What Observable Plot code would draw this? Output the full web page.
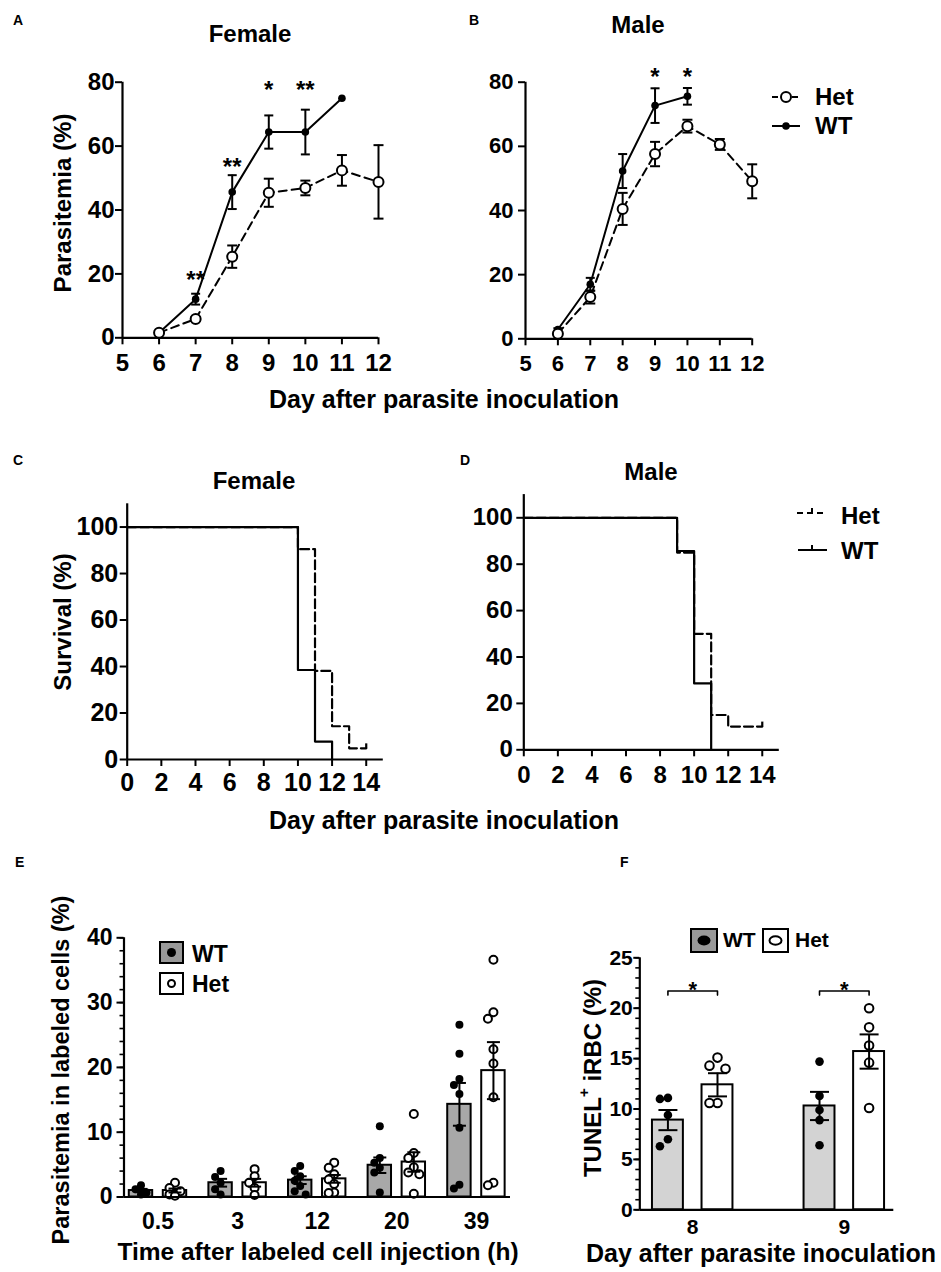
<!DOCTYPE html>
<html><head><meta charset="utf-8">
<script src="https://cdn.jsdelivr.net/npm/d3@7"></script>
<script src="https://cdn.jsdelivr.net/npm/@observablehq/plot@0.6"></script>
<style>
html,body{margin:0;padding:0;background:#fff;}
#fig{position:relative;width:941px;height:1272px;overflow:hidden;background:#fff;}
#fig svg{position:absolute;}
</style></head>
<body><div id="fig"></div>
<script>
// ---------------- DATA ----------------
// A / B : parasitemia (%) by day, mean and SEM
const dayTicks = [5, 6, 7, 8, 9, 10, 11, 12];
const femaleWTDays = [6, 7, 8, 9, 10, 11];
const femaleWTMean = [1.6, 12.1, 45.6, 64.4, 64.4, 75.0];
const femaleWTSem  = [0.3, 1.7, 5.3, 5.2, 7.0, 0];
const femaleHetDays = [6, 7, 8, 9, 10, 11, 12];
const femaleHetMean = [1.6, 5.9, 25.4, 45.4, 46.9, 52.4, 48.8];
const femaleHetSem  = [0.3, 0.6, 3.5, 4.4, 2.3, 4.8, 11.5];
const femaleStarDays = [7, 8, 9, 10];
const femaleStarY = [18.8, 54.0, 78.1, 78.1];
const femaleStarText = ["**", "**", "*", "**"];

const maleWTDays = [6, 7, 8, 9, 10];
const maleWTMean = [2.9, 17.0, 52.3, 72.7, 75.6];
const maleWTSem  = [0.4, 2.0, 5.3, 5.4, 2.6];
const maleHetDays = [6, 7, 8, 9, 10, 11, 12];
const maleHetMean = [1.6, 13.0, 40.5, 57.6, 66.3, 60.6, 49.1];
const maleHetSem  = [0.4, 2.0, 5.0, 3.8, 2.0, 1.7, 5.3];
const maleStarDays = [9, 10];
const maleStarY = [82.2, 82.2];
const maleStarText = ["*", "*"];

// C / D : survival (%)
const survDayTicks = [0, 2, 4, 6, 8, 10, 12, 14];
const survPctTicks = [0, 20, 40, 60, 80, 100];
const femaleSurvWTDays = [0, 10, 11, 12];
const femaleSurvWTPct  = [100, 38.5, 7.7, 0];
const femaleSurvHetDays = [0, 10, 11, 12, 13, 14];
const femaleSurvHetPct  = [100, 90.5, 38.1, 14.3, 4.8, 4.8];
const femaleCensorDays = [14];
const femaleCensorPct = [4.8];
const maleSurvWTDays = [0, 9, 10, 11];
const maleSurvWTPct  = [100, 85.7, 28.6, 0];
const maleSurvHetDays = [0, 9, 10, 11, 12, 14];
const maleSurvHetPct  = [100, 85, 50, 15, 10, 10];
const maleCensorDays = [14];
const maleCensorPct = [10];

// E : parasitemia in labeled cells (%)
const timeGroups = ["0.5", "3", "12", "20", "39"];
const eWTMean = [1.0, 2.2, 2.6, 4.9, 14.3];
const eWTSem  = [0.25, 0.6, 0.6, 1.2, 3.3];
const eHetMean = [1.0, 2.2, 2.8, 5.4, 19.5];
const eHetSem  = [0.3, 0.6, 0.6, 1.5, 4.4];
const eWTPoints = [
  [1.8, 1.2, 0.7, 0.4],
  [4.0, 3.1, 2.2, 1.2, 0.4],
  [4.8, 4.0, 3.2, 2.5, 1.7, 0.9, 0.4],
  [10.9, 6.0, 5.3, 4.5, 3.8, 0.7],
  [26.6, 22.1, 18.2, 17.3, 15.9, 10.7, 1.9, 1.3]
];
const eHetPoints = [
  [2.2, 1.4, 0.9, 0.4, 0.2],
  [4.3, 3.2, 2.2, 1.4, 0.3],
  [5.3, 4.5, 3.5, 2.7, 2.0, 0.7, 0.6],
  [12.8, 6.8, 6.0, 4.6, 3.8, 3.5, 0.5],
  [36.6, 28.5, 27.5, 22.8, 20.6, 15.4, 2.2, 1.8]
];

// F : TUNEL+ iRBC (%)
const dayGroups = ["8", "9"];
const fWTMean = [8.9, 10.3];
const fWTSem  = [1.0, 1.4];
const fHetMean = [12.4, 15.7];
const fHetSem  = [1.15, 1.7];
const fWTPoints = [[11.1, 11.0, 9.4, 7.0, 6.3], [14.7, 11.3, 9.9, 8.9, 6.4]];
const fHetPoints = [[15.1, 14.3, 14.0, 10.6, 10.6], [20.0, 18.1, 16.3, 14.6, 10.1]];
const fSigY = [21.7, 21.7];
const fSigText = ["*", "*"];

// ---------------- HELPERS ----------------
const FONT = "'Liberation Sans', Arial, Helvetica, sans-serif";
const fig = document.getElementById("fig");
const intFmt = d3.format("d");
const capSymbol = {draw(ctx, size) { const w = Math.sqrt(size / Math.PI); ctx.moveTo(-w, 0); ctx.lineTo(w, 0); }};
const upTick = {draw(ctx, size) { const h = Math.sqrt(size / Math.PI); ctx.moveTo(0, 0); ctx.lineTo(0, -h); }};

function place(svg, left, top) {
  svg.style.left = left + "px";
  svg.style.top = top + "px";
  svg.style.position = "absolute";
  svg.style.overflow = "visible";
  fig.appendChild(svg);
}
function rows(xs, vs, es) { return xs.map((x, i) => ({x, v: vs[i], e: es ? es[i] : 0})); }
function errMarks(data, capR, sw = 2) {
  const r = data.filter(d => d.e > 0);
  return [
    Plot.ruleX(r, {x: "x", y1: d => d.v - d.e, y2: d => d.v + d.e, stroke: "black", strokeWidth: sw}),
    Plot.dot(r, {x: "x", y: d => d.v + d.e, symbol: capSymbol, r: capR, stroke: "black", fill: "none", strokeWidth: sw}),
    Plot.dot(r, {x: "x", y: d => d.v - d.e, symbol: capSymbol, r: capR, stroke: "black", fill: "none", strokeWidth: sw})
  ];
}
const baseStyle = {fontFamily: FONT, fontWeight: "bold", background: "transparent", overflow: "visible", color: "black"};

// ---------------- A & B ----------------
function growth(cfg) {
  const wt = rows(cfg.wtDays, cfg.wtMean, cfg.wtSem);
  const het = rows(cfg.hetDays, cfg.hetMean, cfg.hetSem);
  const stars = cfg.starDays.map((d, i) => ({x: d, y: cfg.starY[i], t: cfg.starText[i]}));
  return Plot.plot({
    width: cfg.width, height: cfg.height,
    marginLeft: cfg.mL, marginRight: cfg.mR, marginTop: cfg.mT, marginBottom: cfg.mB,
    x: {domain: [5, 12]}, y: {domain: [0, 80]},
    style: {...baseStyle, fontSize: cfg.fs + "px"},
    marks: [
      Plot.axisX({ticks: dayTicks, tickFormat: intFmt, tickSize: 7, tickPadding: cfg.xPad, fontSize: cfg.fs, fontWeight: "bold", strokeWidth: 2, label: null}),
      Plot.axisY({ticks: [0, 20, 40, 60, 80], tickFormat: intFmt, tickSize: 7, tickPadding: cfg.yPad, fontSize: cfg.fs, fontWeight: "bold", strokeWidth: 2, label: null}),
      Plot.ruleX([5], {strokeWidth: 2.2}),
      Plot.ruleY([0], {strokeWidth: 2.2}),
      ...errMarks(het, 5),
      ...errMarks(wt, 4.5),
      Plot.line(het, {x: "x", y: "v", stroke: "black", strokeWidth: 2, strokeDasharray: "8,5"}),
      Plot.line(wt, {x: "x", y: "v", stroke: "black", strokeWidth: 2}),
      Plot.dot(wt, {x: "x", y: "v", r: 3.8, fill: "black"}),
      Plot.dot(het, {x: "x", y: "v", r: 5, fill: "white", stroke: "black", strokeWidth: 2}),
      Plot.text(stars, {x: "x", y: "y", text: "t", fontSize: 24, fontWeight: "bold", lineAnchor: "bottom", dy: 10})
    ]
  });
}
place(growth({width: 470, height: 400, mL: 122, mR: 92, mT: 81.7, mB: 62.7, fs: 24, xPad: 9, yPad: 1,
  wtDays: femaleWTDays, wtMean: femaleWTMean, wtSem: femaleWTSem,
  hetDays: femaleHetDays, hetMean: femaleHetMean, hetSem: femaleHetSem,
  starDays: femaleStarDays, starY: femaleStarY, starText: femaleStarText}), 0, 0);
place(growth({width: 511, height: 400, mL: 95, mR: 189.3, mT: 81.7, mB: 61.7, fs: 22, xPad: 10, yPad: 5,
  wtDays: maleWTDays, wtMean: maleWTMean, wtSem: maleWTSem,
  hetDays: maleHetDays, hetMean: maleHetMean, hetSem: maleHetSem,
  starDays: maleStarDays, starY: maleStarY, starText: maleStarText}), 430, 0);

// ---------------- C & D ----------------
function survival(cfg) {
  const wt = cfg.wtDays.map((d, i) => ({x: d, v: cfg.wtPct[i]}));
  const het = cfg.hetDays.map((d, i) => ({x: d, v: cfg.hetPct[i]}));
  const cens = cfg.cDays.map((d, i) => ({x: d, v: cfg.cPct[i]}));
  return Plot.plot({
    width: cfg.width, height: cfg.height,
    marginLeft: cfg.mL, marginRight: cfg.mR, marginTop: cfg.mT, marginBottom: cfg.mB,
    x: {domain: [0, 15]}, y: {domain: [0, 110]},
    style: {...baseStyle, fontSize: cfg.fs + "px"},
    marks: [
      Plot.axisX({ticks: survDayTicks, tickFormat: intFmt, tickSize: 7, tickPadding: cfg.xPad, fontSize: cfg.fs, fontWeight: "bold", strokeWidth: 2, label: null}),
      Plot.axisY({ticks: survPctTicks, tickFormat: intFmt, tickSize: 7, tickPadding: cfg.yPad, fontSize: cfg.fs, fontWeight: "bold", strokeWidth: 2, label: null}),
      Plot.line(het, {x: "x", y: "v", curve: "step-after", stroke: "black", strokeWidth: 2.2, strokeDasharray: "9,4"}),
      Plot.line(wt, {x: "x", y: "v", curve: "step-after", stroke: "black", strokeWidth: 2.2}),
      Plot.dot(cens, {x: "x", y: "v", symbol: upTick, r: 5, stroke: "black", fill: "none", strokeWidth: 2.2}),
      Plot.ruleX([0], {strokeWidth: 2.2}),
      Plot.ruleY([0], {strokeWidth: 2.2})
    ]
  });
}
place(survival({width: 470, height: 420, mL: 126.7, mR: 87.2, mT: 83.3, mB: 81, fs: 25, xPad: 7, yPad: 2,
  wtDays: femaleSurvWTDays, wtPct: femaleSurvWTPct, hetDays: femaleSurvHetDays, hetPct: femaleSurvHetPct,
  cDays: femaleCensorDays, cPct: femaleCensorPct}), 0, 420);
place(survival({width: 511, height: 420, mL: 93.3, mR: 162.2, mT: 74.1, mB: 90.7, fs: 24, xPad: 9, yPad: 4,
  wtDays: maleSurvWTDays, wtPct: maleSurvWTPct, hetDays: maleSurvHetDays, hetPct: maleSurvHetPct,
  cDays: maleCensorDays, cPct: maleCensorPct}), 430, 420);

// ---------------- E & F (bar + scatter) ----------------
// simple beeswarm: spread overlapping dots sideways (pixel units)
function spread(values, pxPerUnit, step, diam) {
  const order = values.map((v, i) => i).sort((a, b) => values[b] - values[a]);
  const placed = [], off = values.map(() => 0);
  for (const i of order) {
    let best = 0, bestScore = -Infinity;
    for (const c of [0, -step, step]) {
      let minD = Infinity;
      for (const p of placed) minD = Math.min(minD, Math.hypot(c - p.x, (values[i] - p.v) * pxPerUnit));
      if (minD >= diam) { best = c; break; }
      if (minD > bestScore) { bestScore = minD; best = c; }
    }
    off[i] = best; placed.push({x: best, v: values[i]});
  }
  return off;
}
function barPanel(cfg) {
  const bars = [], pts = [];
  cfg.groups.forEach((g, i) => {
    [["WT", -1, cfg.wtMean, cfg.wtSem, cfg.wtPts], ["Het", 1, cfg.hetMean, cfg.hetSem, cfg.hetPts]].forEach(([geno, s, m, e, p]) => {
      const cx = i + s * cfg.off;
      bars.push({geno, x: cx, v: m[i], e: e[i]});
      const o = spread(p[i], cfg.pxY, cfg.step, cfg.diam);
      p[i].forEach((v, k) => pts.push({geno, x: cx + o[k] / cfg.pxX, v}));
    });
  });
  const wtB = bars.filter(d => d.geno === "WT"), hetB = bars.filter(d => d.geno === "Het");
  const extra = cfg.extra ? cfg.extra(bars) : [];
  return Plot.plot({
    width: cfg.width, height: cfg.height,
    marginLeft: cfg.mL, marginRight: cfg.mR, marginTop: cfg.mT, marginBottom: cfg.mB,
    x: {domain: cfg.xDomain}, y: {domain: [0, cfg.yMax]},
    style: {...baseStyle, fontSize: cfg.fs + "px"},
    marks: [
      Plot.axisY({ticks: d3.range(0, cfg.yMax + 0.01, cfg.minor), tickSize: 4, tickFormat: () => "", strokeWidth: 1.6, label: null}),
      Plot.axisY({ticks: d3.range(0, cfg.yMax + 0.01, cfg.major), tickFormat: intFmt, tickSize: cfg.majorTick, tickPadding: cfg.yPad, fontSize: cfg.fs, fontWeight: "bold", strokeWidth: 2, label: null}),
      Plot.axisX({ticks: cfg.groups.map((g, i) => i), tickFormat: i => cfg.groups[i], tickSize: 0, tickPadding: cfg.xPad, fontSize: cfg.fs, fontWeight: "bold", label: null}),
      Plot.rect(bars, {x1: d => d.x - cfg.hw, x2: d => d.x + cfg.hw, y1: 0, y2: "v", fill: d => d.geno === "WT" ? cfg.wtFill : "white", stroke: "black", strokeWidth: 2}),
      Plot.dot(pts.filter(d => d.geno === "Het"), {x: "x", y: "v", r: cfg.r, fill: "white", stroke: "black", strokeWidth: 2}),
      Plot.dot(pts.filter(d => d.geno === "WT"), {x: "x", y: "v", r: cfg.r, fill: "black"}),
      ...errMarks(wtB, cfg.capR), ...errMarks(hetB, cfg.capR),
      ...extra,
      Plot.ruleX([cfg.xDomain[0]], {strokeWidth: 2.2}),
      Plot.ruleY([0], {strokeWidth: 2.2})
    ]
  });
}
place(barPanel({width: 560, height: 392, mL: 123.5, mR: 50, mT: 57.3, mB: 75.5, fs: 23,
  xDomain: [-0.427, 4.428], yMax: 40, major: 10, minor: 2, majorTick: 7, yPad: 4.5, xPad: 15.5,
  groups: timeGroups, wtMean: eWTMean, wtSem: eWTSem, hetMean: eHetMean, hetSem: eHetSem,
  wtPts: eWTPoints, hetPts: eHetPoints, off: 0.2136, hw: 0.147, pxX: 79.6, pxY: 6.48,
  step: 5.5, diam: 6.5, r: 4, capR: 6.5, wtFill: "#a8a8a8"}), 0, 880);

place(barPanel({width: 361, height: 392, mL: 59.3, mR: 47.7, mT: 77.3, mB: 62.7, fs: 21,
  xDomain: [-0.349, 1.3265], yMax: 25, major: 5, minor: 1, majorTick: 6, yPad: 1, xPad: 9,
  groups: dayGroups, wtMean: fWTMean, wtSem: fWTSem, hetMean: fHetMean, hetSem: fHetSem,
  wtPts: fWTPoints, hetPts: fHetPoints, off: 0.1635, hw: 0.102, pxX: 151.6, pxY: 10.08,
  step: 8, diam: 9, r: 4.3, capR: 9.5, wtFill: "#d3d3d3",
  extra: (bars) => {
    const br = dayGroups.flatMap((g, i) => {
      const a = bars.find(d => d.geno === "WT" && Math.round(d.x) === i).x;
      const b = bars.find(d => d.geno === "Het" && Math.round(d.x) === i).x;
      return [{g: i, x: a, y: fSigY[i] - 0.4}, {g: i, x: a, y: fSigY[i]}, {g: i, x: b, y: fSigY[i]}, {g: i, x: b, y: fSigY[i] - 0.4}];
    });
    const st = dayGroups.map((g, i) => ({x: i, y: fSigY[i], t: fSigText[i]}));
    return [
      Plot.line(br, {x: "x", y: "y", z: "g", stroke: "black", strokeWidth: 1.6}),
      Plot.text(st, {x: "x", y: "y", text: "t", fontSize: 22, fontWeight: "bold", lineAnchor: "bottom", dy: 6})
    ];
  }}), 580, 880);

// ---------------- TEXT / LEGENDS OVERLAY ----------------
const ov = d3.select(fig).append("svg").attr("width", 941).attr("height", 1272)
  .style("left", "0px").style("top", "0px").style("position", "absolute")
  .attr("font-family", FONT).attr("font-weight", "bold").attr("fill", "black");
function txt(x, y, s, size, anchor = "start", rot = false) {
  const t = ov.append("text").attr("font-size", size).attr("text-anchor", anchor).text(s);
  if (rot) t.attr("transform", `translate(${x},${y}) rotate(-90)`).attr("dominant-baseline", "central");
  else t.attr("x", x).attr("y", y);
  return t;
}
// panel letters
txt(13, 25, "A", 14); txt(469, 25, "B", 14); txt(13, 465, "C", 14); txt(460, 465, "D", 14);
txt(15, 867, "E", 14); txt(620, 867, "F", 14);
// titles
txt(250, 42, "Female", 24, "middle"); txt(638, 33, "Male", 24, "middle");
txt(254, 489, "Female", 24, "middle"); txt(651, 480, "Male", 24, "middle");
// axis titles
txt(444, 408, "Day after parasite inoculation", 25, "middle");
txt(444, 829, "Day after parasite inoculation", 25, "middle");
txt(62, 203, "Parasitemia (%)", 24, "middle", true);
txt(62, 622, "Survival (%)", 24, "middle", true);
txt(61, 1070, "Parasitemia in labeled cells (%)", 23.5, "middle", true);
txt(318, 1260, "Time after labeled cell injection (h)", 24.5, "middle");
txt(761, 1262, "Day after parasite inoculation", 25, "middle");
{
  const t = ov.append("text").attr("font-size", 24).attr("text-anchor", "middle")
    .attr("transform", "translate(592,1078) rotate(-90)").attr("dominant-baseline", "central");
  t.append("tspan").text("TUNEL");
  t.append("tspan").attr("font-size", 15).attr("dy", -9).text("+");
  t.append("tspan").attr("dy", 9).text(" iRBC (%)");
}
// legend B
ov.append("line").attr("x1", 772).attr("x2", 800).attr("y1", 97).attr("y2", 97).attr("stroke", "black").attr("stroke-width", 2).attr("stroke-dasharray", "6,4");
ov.append("circle").attr("cx", 786).attr("cy", 97).attr("r", 5).attr("fill", "white").attr("stroke", "black").attr("stroke-width", 2);
txt(815, 105, "Het", 24);
ov.append("line").attr("x1", 772).attr("x2", 800).attr("y1", 126).attr("y2", 126).attr("stroke", "black").attr("stroke-width", 2);
ov.append("circle").attr("cx", 786).attr("cy", 126).attr("r", 3.8).attr("fill", "black");
txt(815, 134, "WT", 24);
// legend D
ov.append("line").attr("x1", 797).attr("x2", 826).attr("y1", 513).attr("y2", 513).attr("stroke", "black").attr("stroke-width", 2).attr("stroke-dasharray", "6,4");
ov.append("line").attr("x1", 812).attr("x2", 812).attr("y1", 513).attr("y2", 508).attr("stroke", "black").attr("stroke-width", 2);
txt(841, 524, "Het", 24);
ov.append("line").attr("x1", 798).attr("x2", 827).attr("y1", 550).attr("y2", 550).attr("stroke", "black").attr("stroke-width", 2);
ov.append("line").attr("x1", 812).attr("x2", 812).attr("y1", 550).attr("y2", 545).attr("stroke", "black").attr("stroke-width", 2);
txt(841, 559, "WT", 24);
// legend E
ov.append("rect").attr("x", 160).attr("y", 942).attr("width", 23).attr("height", 21).attr("fill", "#999").attr("stroke", "black").attr("stroke-width", 2);
ov.append("circle").attr("cx", 171.5).attr("cy", 952.5).attr("r", 4.5).attr("fill", "black");
txt(192, 962, "WT", 23);
ov.append("rect").attr("x", 160).attr("y", 973).attr("width", 23).attr("height", 21).attr("fill", "white").attr("stroke", "black").attr("stroke-width", 2);
ov.append("circle").attr("cx", 171.5).attr("cy", 983.5).attr("r", 3.5).attr("fill", "white").attr("stroke", "black").attr("stroke-width", 2);
txt(192, 992, "Het", 23);
// legend F
ov.append("rect").attr("x", 691).attr("y", 929).attr("width", 26).attr("height", 23).attr("fill", "#999").attr("stroke", "black").attr("stroke-width", 2);
ov.append("ellipse").attr("cx", 704).attr("cy", 940.5).attr("rx", 6.5).attr("ry", 5).attr("fill", "black");
txt(723, 947, "WT", 21);
ov.append("rect").attr("x", 763).attr("y", 929).attr("width", 25).attr("height", 23).attr("fill", "white").attr("stroke", "black").attr("stroke-width", 2);
ov.append("ellipse").attr("cx", 775.5).attr("cy", 940.5).attr("rx", 6).attr("ry", 4.3).attr("fill", "white").attr("stroke", "black").attr("stroke-width", 2);
txt(795, 947, "Het", 21);
</script>
</body></html>
